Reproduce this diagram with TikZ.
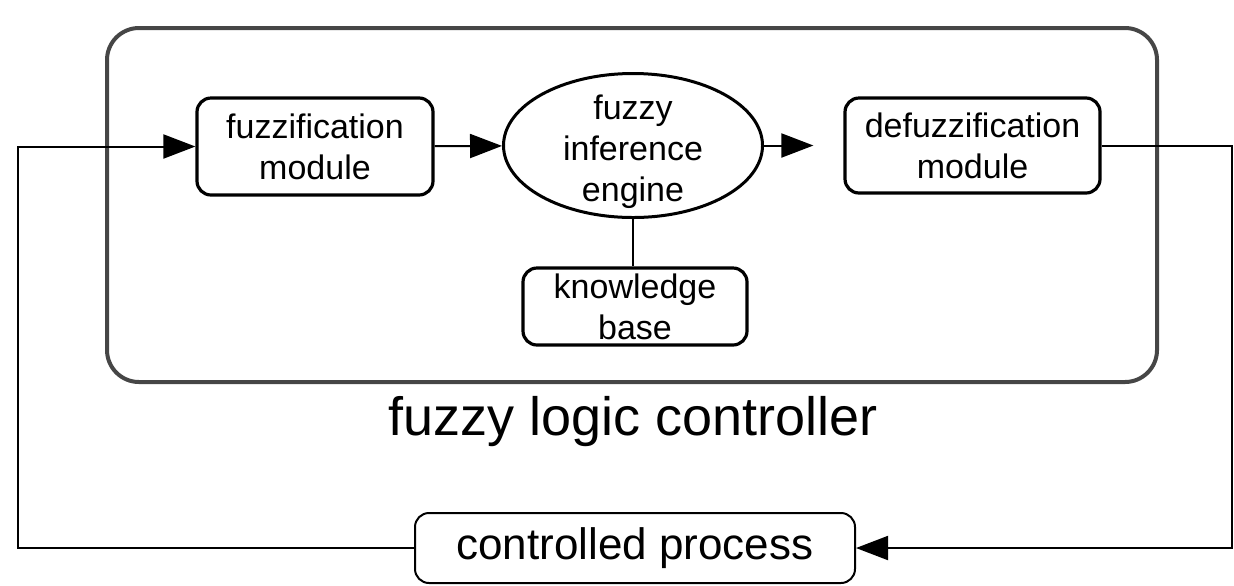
\documentclass[tikz,border=0pt]{standalone}
\usepackage{fontspec}
\setmainfont{Liberation Sans}
\usetikzlibrary{arrows.meta,shapes.geometric}
\definecolor{frame}{RGB}{70,70,70}
\tikzset{
  module/.style={draw, line width=1.6pt, rounded corners=7pt, align=center,
    inner sep=0pt, font=\fontsize{17}{20.5}\selectfont},
  engine/.style={draw, ellipse, line width=1.5pt, inner sep=0pt,
    minimum width=129.5pt, minimum height=72pt},
  etxt/.style={align=center, inner sep=0pt, font=\fontsize{17}{20.5}\selectfont},
  plant/.style={draw, line width=1pt, rounded corners=7pt, inner sep=0pt,
    minimum width=220pt, minimum height=35pt, font=\fontsize{22}{26}\selectfont},
  flow/.style={line width=1pt, -{Triangle[length=16pt,width=12pt]}},
  link/.style={line width=1pt},
}

\begin{document}
\begin{tikzpicture}[x=0.5pt, y=-0.5pt]
\useasboundingbox (0,0) rectangle (1234,585);

% ------------------------------------------------- controller frame
\draw[frame, line width=2pt, rounded corners=16pt] (107,28) rectangle (1157,382);
\node[font=\fontsize{27}{30}\selectfont, anchor=base] (flc) at (633,435)
  {fuzzy logic controller};

% ------------------------------------------------- modules
\node[module, minimum width=118pt, minimum height=48.5pt] (fzm) at (315,146.5)
  {fuzzification\\module};
\node[engine] (fie) at (633,145.5) {};
\node[etxt] (fietxt) at (633,152) {fuzzy\\inference\\engine};
\node[module, minimum width=127.5pt, minimum height=47.5pt] (dfm) at (972.5,145.5)
  {defuzzification\\module};
\node[module, minimum width=112pt, minimum height=38.5pt] (kb) at (635,306.5)
  {knowledge\\base};
\node[plant] (cp) at (635,548) {controlled process};

% ------------------------------------------------- connectors
\coordinate (lft) at (18,0);
\coordinate (rgt) at (1232,0);
\draw[flow] (fzm) -- (fie);
\draw[flow, shorten >=15pt] (fie) -- (dfm);
\draw[link] (fie.south) -- (fie.south |- kb.north);
\draw[flow] (cp.west) -- (cp.west -| lft) |- (fzm.west);
\draw[flow] (dfm.east) -- (dfm.east -| rgt) |- (cp.east);

\end{tikzpicture}
\end{document}
